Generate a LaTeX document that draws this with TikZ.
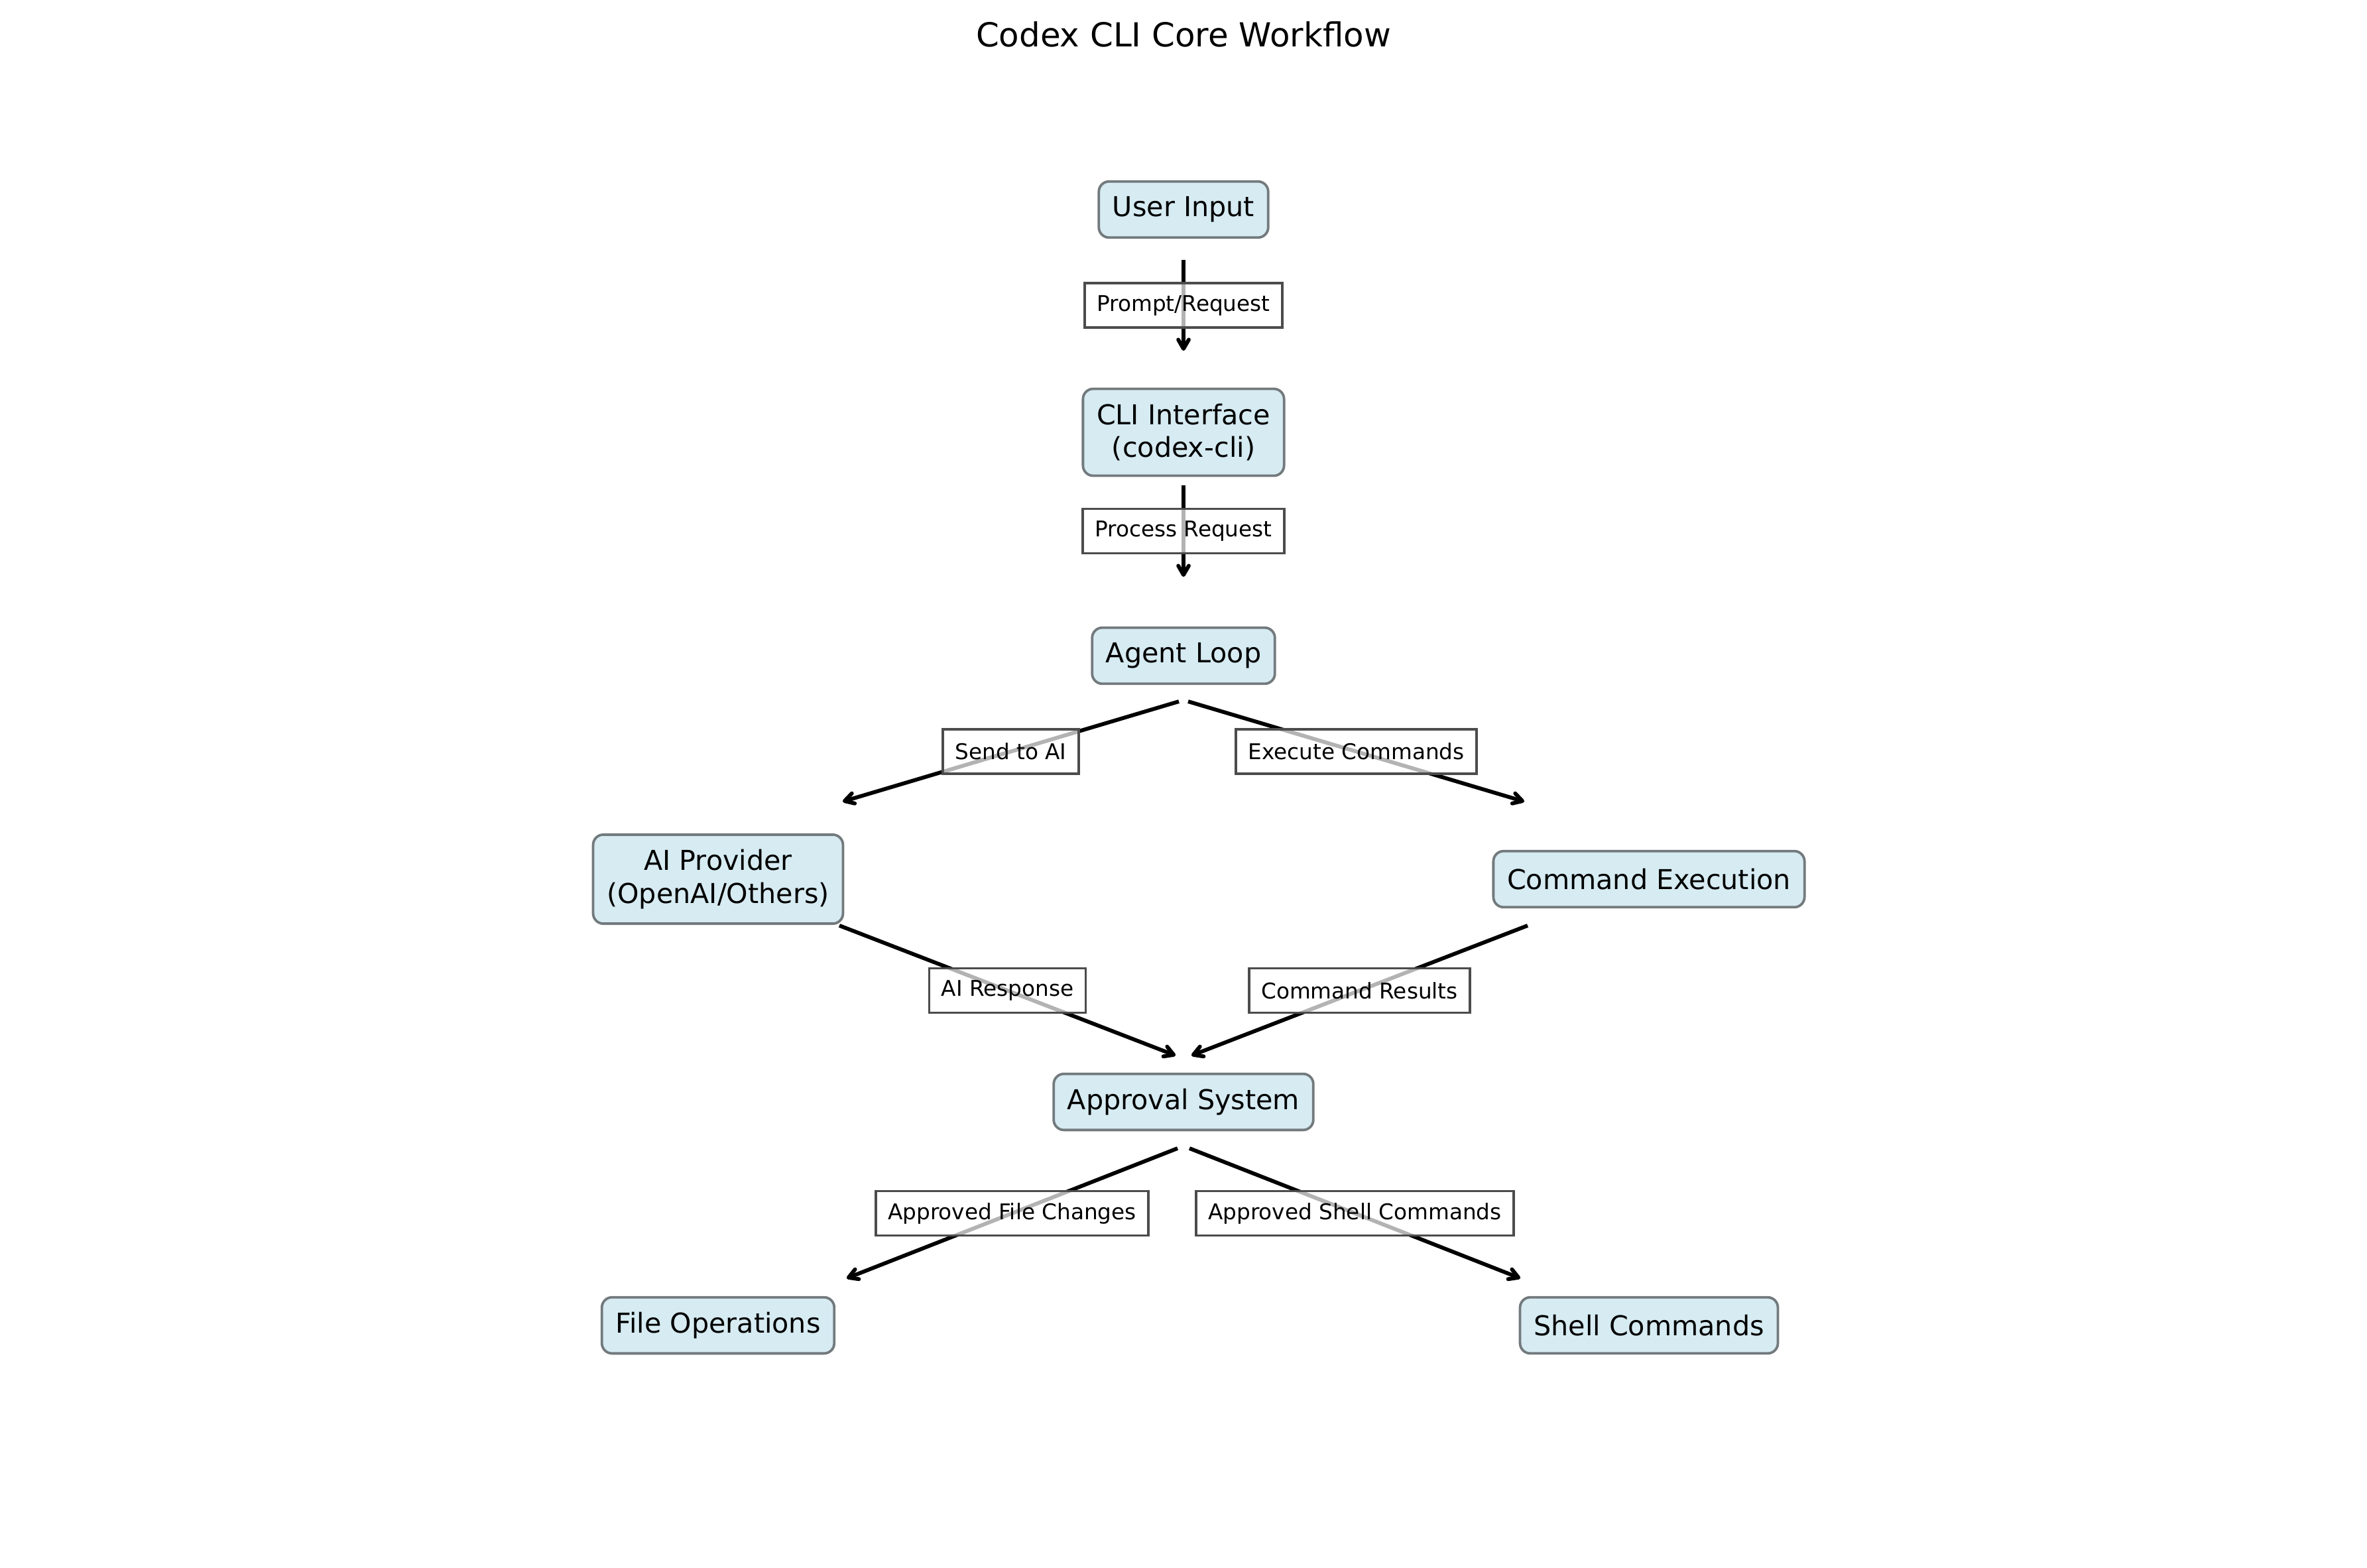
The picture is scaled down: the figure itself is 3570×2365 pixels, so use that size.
\documentclass[tikz,border=0pt]{standalone}
\usepackage{fontspec}
\setmainfont{DejaVu Sans}
\usepackage{tikz}
\usetikzlibrary{calc, arrows.meta}
\definecolor{boxfill}{RGB}{214,235,242}
\definecolor{boxedge}{RGB}{115,122,125}
\tikzstyle{box}   = [rectangle, rounded corners=4.5pt, draw=boxedge, line width=1.1pt, fill=boxfill, align=center, inner xsep=6pt, inner ysep=6.5pt, minimum height=24.6pt, font=\fontsize{12}{14.4}\selectfont]
\tikzstyle{lbl}   = [rectangle, draw=black!70, line width=1.1pt, fill=white, fill opacity=0.7, text opacity=1, inner xsep=5.3pt, inner ysep=3pt, minimum height=19.5pt, font=\fontsize{9.5}{11.4}\selectfont]
\tikzstyle{arrow} = [line width=1.7pt, -{Straight Barb[length=4pt,width=4.6pt,round]}]

\begin{document}
\begin{tikzpicture}[x=0.2906pt, y=-0.2906pt]
      \useasboundingbox (0,0) rectangle (3570,2365);

      \node (title) [anchor=base, font=\fontsize{14.5}{17}\selectfont] at (1785,70) {Codex CLI Core Workflow};

      \node (user)  [box] at (1785,316)  {User Input};
      \node (cli)   [box] at (1785,652)  {CLI Interface\\(codex-cli)};
      \node (agent) [box] at (1785,989)  {Agent Loop};
      \node (ai)    [box] at (1083,1326) {AI Provider\\(OpenAI/Others)};
      \node (cmd)   [box] at (2487,1326) {Command Execution};
      \node (appr)  [box] at (1785,1662) {Approval System};
      \node (file)  [box] at (1083,1999) {File Operations};
      \node (shell) [box] at (2487,1999) {Shell Commands};

      \coordinate (user-out)  at ($(user)+(0,76)$);
      \coordinate (cli-in)    at ($(cli)+(0,-123)$);
      \coordinate (cli-out)   at ($(cli)+(0,80)$);
      \coordinate (agent-in)  at ($(agent)+(0,-119)$);
      \coordinate (agent-l)   at ($(agent)+(-7,69)$);
      \coordinate (agent-r)   at ($(agent)+(7,69)$);
      \coordinate (ai-in)     at ($(ai)+(188,-117)$);
      \coordinate (cmd-in)    at ($(cmd)+(-188,-117)$);
      \coordinate (ai-out)    at ($(ai)+(183,70)$);
      \coordinate (cmd-out)   at ($(cmd)+(-183,70)$);
      \coordinate (appr-inl)  at ($(appr)+(-12,-70)$);
      \coordinate (appr-inr)  at ($(appr)+(12,-70)$);
      \coordinate (appr-l)    at ($(appr)+(-9,70)$);
      \coordinate (appr-r)    at ($(appr)+(9,70)$);
      \coordinate (file-in)   at ($(file)+(194,-71)$);
      \coordinate (shell-in)  at ($(shell)+(-194,-71)$);

      \draw [arrow] (user-out) -- node [lbl] {Prompt/Request} (cli-in);
      \draw [arrow] (cli-out)  -- node [lbl] {Process Request} (agent-in);

      \draw [arrow] (agent-l) -- node [lbl] {Send to AI} (ai-in);
      \draw [arrow] (agent-r) -- node [lbl] {Execute Commands} (cmd-in);

      \draw [arrow] (ai-out)  -- node [lbl] {AI Response} (appr-inl);
      \draw [arrow] (cmd-out) -- node [lbl] {Command Results} (appr-inr);

      \draw [arrow] (appr-l) -- node [lbl] {Approved File Changes} (file-in);
      \draw [arrow] (appr-r) -- node [lbl] {Approved Shell Commands} (shell-in);

\end{tikzpicture}
\end{document}
